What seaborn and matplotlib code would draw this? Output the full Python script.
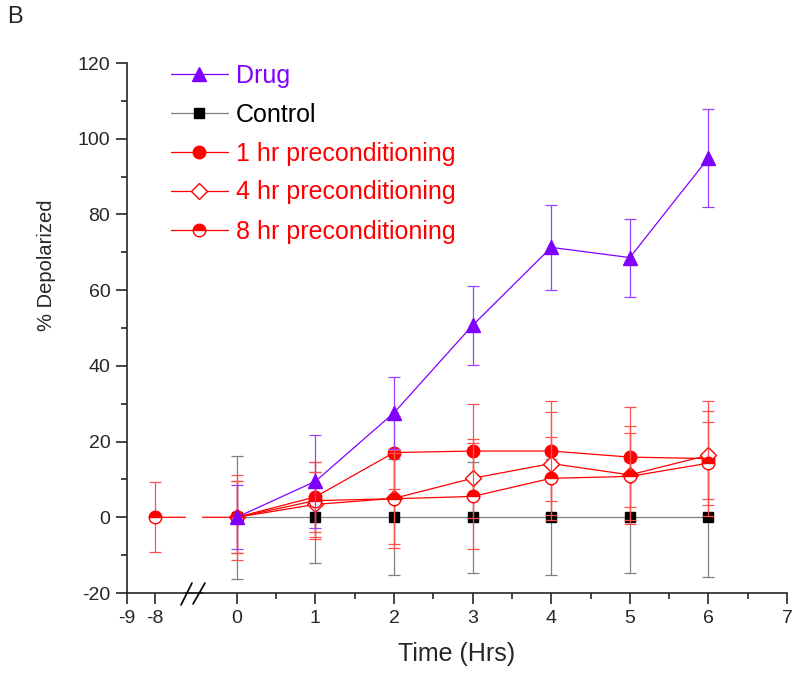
import numpy as np
import pandas as pd
import matplotlib
matplotlib.use("Agg")
import matplotlib.pyplot as plt
from matplotlib.lines import Line2D
from matplotlib.ticker import MultipleLocator, FixedLocator
import seaborn as sns

# data
hours = [0, 1, 2, 3, 4, 5, 6]
hours_8 = [-8, 0, 1, 2, 3, 4, 5, 6]

drug = [0, 9.5, 27.6, 50.7, 71.3, 68.6, 94.9]
drug_err = [8.5, 12.2, 9.5, 10.4, 11.2, 10.3, 13.0]

control = [0, 0, 0, 0, 0, 0, 0]
control_err = [16.2, 12.0, 15.3, 14.6, 15.3, 14.8, 15.9]

pre1 = [0, 5.4, 17.1, 17.5, 17.5, 15.9, 15.5]
pre1_err = [11.3, 9.2, 9.6, 12.3, 13.2, 13.3, 15.2]

pre4 = [0, 3.4, 5.0, 10.3, 14.2, 11.2, 16.4]
pre4_err = [9.5, 8.5, 12.0, 10.5, 13.5, 12.9, 11.6]

pre8 = [0, 0, 4.4, 4.9, 5.5, 10.3, 10.8, 14.3]
pre8_err = [9.2, 9.5, 10.2, 13.0, 14.0, 11.0, 11.4, 11.0]

purple = "#8000ff"
red = "#ff0000"

sns.set_style("ticks")
plt.rcParams["font.family"] = ["Liberation Sans", "DejaVu Sans"]
plt.rcParams["axes.unicode_minus"] = False

W, H = 800, 684
fig = plt.figure(figsize=(8, 6.84), dpi=100)

def fx(px):
    return px / W

def fy(py):
    return 1 - py / H

y_bot, y_top = 593, 63
axL = fig.add_axes([fx(127), fy(y_bot), fx(186 - 127), (y_bot - y_top) / H])
axR = fig.add_axes([fx(202), fy(y_bot), fx(787 - 202), (y_bot - y_top) / H], sharey=axL)

axL.set_xlim(-9, -9 + (186 - 127) / 28.0)
axR.set_xlim(7 - (787 - 202) / 78.6, 7)
axL.set_ylim(-20, 120)

# name, x, y, err, line colour, errorbar colour, marker style
series = [
    ("Control", hours, control, control_err, "#808080", "#808080",
     dict(marker="s", markersize=7.5, markerfacecolor="black", markeredgecolor="black")),
    ("1 hr preconditioning", hours, pre1, pre1_err, red, "#ff5050",
     dict(marker="o", markersize=9, markerfacecolor=red, markeredgecolor=red)),
    ("4 hr preconditioning", hours, pre4, pre4_err, red, "#ff5050",
     dict(marker="D", markersize=8, markerfacecolor="white", markeredgecolor=red)),
    ("8 hr preconditioning", hours_8, pre8, pre8_err, red, "#ff5050",
     dict(marker="o", markersize=9, fillstyle="top", markerfacecolor=red,
          markerfacecoloralt="white", markeredgecolor=red)),
    ("Drug", hours, drug, drug_err, purple, "#9a40ff",
     dict(marker="^", markersize=10, markerfacecolor=purple, markeredgecolor=purple)),
]

for ax in (axL, axR):
    for name, xs, ys, errs, col, ecol, mk in series:
        ax.errorbar(xs, ys, yerr=errs, fmt="none", ecolor=ecol, elinewidth=0.9,
                    capsize=4, capthick=0.9)
        df = pd.DataFrame({"x": xs, "y": ys})
        sns.lineplot(data=df, x="x", y="y", ax=ax, color=col, linewidth=0.9,
                     markeredgewidth=1.0, label=name if ax is axR else None, legend=False, **mk)

# axis styling
for ax in (axL, axR):
    ax.spines["top"].set_visible(False)
    ax.spines["right"].set_visible(False)
    for s in ax.spines.values():
        s.set_linewidth(1.2)
    ax.tick_params(which="major", direction="out", length=8, width=1.2, labelsize=14, pad=4)
    ax.tick_params(which="minor", direction="out", length=4, width=1.2)
    ax.set_xlabel("")
    ax.set_ylabel("")

axR.spines["left"].set_visible(False)
axR.tick_params(axis="y", which="both", left=False, labelleft=False)
axL.xaxis.set_major_locator(FixedLocator([-9, -8]))
axR.xaxis.set_major_locator(MultipleLocator(1))
axR.xaxis.set_minor_locator(MultipleLocator(0.5))
axL.yaxis.set_major_locator(MultipleLocator(20))
axL.yaxis.set_minor_locator(MultipleLocator(10))

fig.text(fx(47), fy(265), "% Depolarized", fontsize=14.5, rotation=90, ha="center", va="center")
fig.text(fx(457), fy(654), "Time (Hrs)", fontsize=18, ha="center", va="center")

# continuous x-axis line across the break, plus the break marks
fig.add_artist(Line2D([fx(186), fx(202)], [fy(y_bot), fy(y_bot)], color="black", lw=1.2))
fig.add_artist(Line2D([fx(181), fx(192)], [fy(605), fy(583)], color="black", lw=1.2))
fig.add_artist(Line2D([fx(193), fx(205)], [fy(604), fy(583)], color="black", lw=1.2))

# legend
handles, labels = axR.get_legend_handles_labels()
order = ["Drug", "Control", "1 hr preconditioning", "4 hr preconditioning", "8 hr preconditioning"]
hmap = dict(zip(labels, handles))
leg = fig.legend([hmap[k] for k in order], order, loc="upper left",
                 bbox_to_anchor=(fx(158), fy(51)), frameon=False, fontsize=18,
                 handlelength=2.3, handletextpad=0.32, labelspacing=0.6, borderpad=0)
for txt, k in zip(leg.get_texts(), order):
    txt.set_color("black" if k == "Control" else (purple if k == "Drug" else red))

fig.text(fx(7), fy(6), "B", fontsize=17, ha="left", va="top")

fig.savefig("out.png", dpi=100)
